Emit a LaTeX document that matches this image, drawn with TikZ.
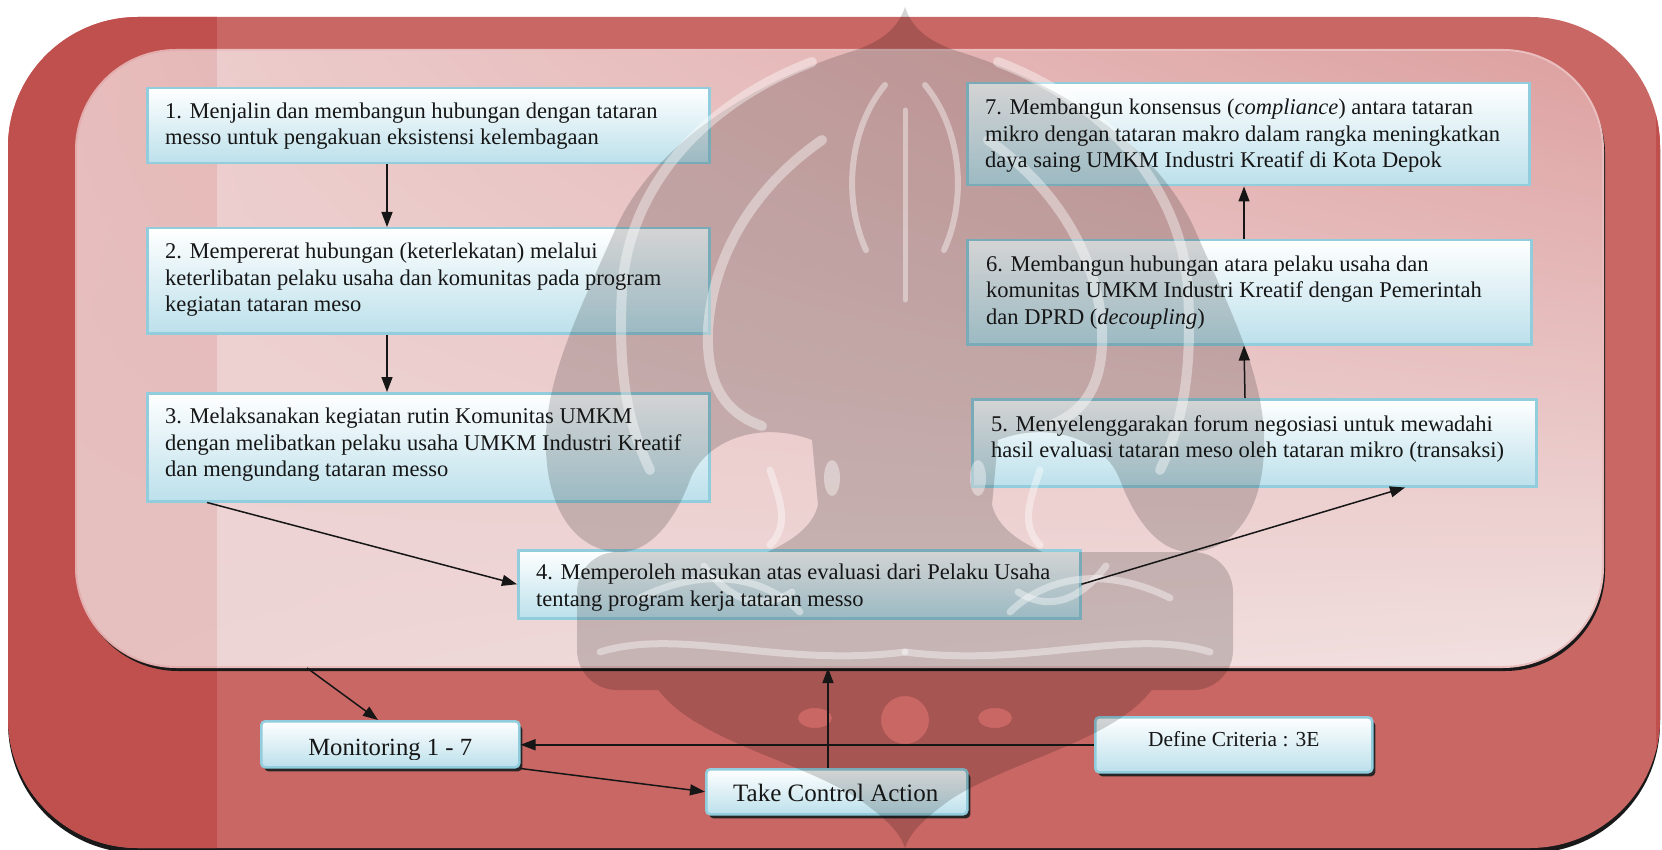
\documentclass[tikz,border=0pt]{standalone}
\usepackage{fontspec}
\setmainfont{Liberation Serif}
\usetikzlibrary{arrows.meta,shadows,shadings,calc}

\definecolor{redlight}{RGB}{201,103,100}
\definecolor{reddark}{RGB}{192,80,77}
\definecolor{boxedge}{RGB}{146,205,221}
\definecolor{boxbot}{RGB}{188,224,235}
\definecolor{panelrim}{RGB}{234,190,190}
\definecolor{ink}{RGB}{22,22,22}
\definecolor{panelUL}{RGB}{238,208,208}
\definecolor{panelUR}{RGB}{221,160,160}
\definecolor{panelLL}{RGB}{237,212,212}
\definecolor{panelLR}{RGB}{242,224,224}

\begin{document}
\begin{tikzpicture}[x=1pt,y=-1pt,
  bigbox/.style={draw=boxedge, line width=2.5pt, top color=white, bottom color=boxbot,
                 anchor=north west, inner sep=0pt},
  smallbox/.style={bigbox, rounded corners=4pt,
                 drop shadow={shadow xshift=3pt, shadow yshift=-4pt, fill=black!85, opacity=1}},
  btext/.style={anchor=north west, inner sep=0pt, align=left, text=ink,
                font=\fontsize{22.5}{26.5}\selectfont},
  stext/.style={anchor=base, inner sep=0pt, text=ink},
  arr/.style={-{Triangle[length=15pt,width=11pt]}, line width=1.5pt, draw=ink},
  emblemline/.style={white, opacity=0.4, line width=10pt, line cap=round},
]
\useasboundingbox (0,0) rectangle (1662,850);

% outer frame with its dark edge strips and bottom shadow
\fill[black!90, rounded corners=130pt] (8,21) rectangle (1660,853);
\fill[redlight, rounded corners=130pt] (8,17) rectangle (1660,848);
\begin{scope}
  \clip[rounded corners=130pt] (8,17) rectangle (1660,848);
  \fill[reddark] (0,0) rectangle (217,850);
  \fill[reddark] (1656,0) rectangle (1662,850);
\end{scope}

% pale inner panel
\node[draw=panelrim, line width=2pt, rounded corners=100pt,
      minimum width=1527pt, minimum height=617pt, inner sep=0pt,
      upper left=panelUL, upper right=panelUR,
      lower left=panelLL, lower right=panelLR,
      drop shadow={shadow xshift=2pt, shadow yshift=-4pt, fill=black!90, opacity=1}]
      (panel) at (839.5,358.5) {};
\begin{scope}
  \clip[rounded corners=100pt] (panel.north west) rectangle (panel.south east);
  \fill[reddark, opacity=0.15] (0,0) rectangle (217,850);
\end{scope}

% process boxes
\node[bigbox, minimum width=562pt, minimum height=75pt]  (b1) at (146,87)  {};
\node[bigbox, minimum width=562pt, minimum height=105pt] (b2) at (146,227) {};
\node[bigbox, minimum width=562pt, minimum height=108pt] (b3) at (146,392) {};
\node[bigbox, minimum width=562pt, minimum height=68pt]  (b4) at (517,549) {};
\node[bigbox, minimum width=564pt, minimum height=87pt]  (b5) at (971,398) {};
\node[bigbox, minimum width=564pt, minimum height=104pt] (b6) at (966,239) {};
\node[bigbox, minimum width=562pt, minimum height=102pt] (b7) at (966,82)  {};

% control loop boxes
\node[smallbox, minimum width=258pt, minimum height=46pt] (mon) at (260,720) {};
\node[smallbox, minimum width=261pt, minimum height=45pt] (tca) at (705,768) {};
\node[smallbox, minimum width=277pt, minimum height=55pt] (def) at (1094,716) {};

% faint emblem in the background: dark body
\begin{scope}[transparency group, opacity=0.17]
  \fill[black] (905,7) .. controls (898,28) and (882,42) .. (850,52)
    .. controls (760,80) and (655,140) .. (615,230)
    .. controls (580,310) and (543,380) .. (546,450)
    .. controls (548,510) and (575,548) .. (615,552)
    .. controls (650,555) and (675,520) .. (690,480)
    .. controls (705,440) and (760,420) .. (812,440)
    -- (818,505) .. controls (812,530) and (785,545) .. (758,556)
    -- (1052,556) .. controls (1025,545) and (998,530) .. (992,505)
    -- (998,440) .. controls (1050,420) and (1105,440) .. (1120,480)
    .. controls (1135,520) and (1160,555) .. (1195,552)
    .. controls (1235,548) and (1262,510) .. (1264,450)
    .. controls (1267,380) and (1230,310) .. (1195,230)
    .. controls (1155,140) and (1050,80) .. (960,52)
    .. controls (928,42) and (912,28) .. (905,7) -- cycle;
  \fill[black, rounded corners=40pt] (577,552) rectangle (1233,690);
  \fill[black, even odd rule] (655,685) .. controls (690,740) and (800,760) .. (860,800)
    .. controls (885,818) and (900,832) .. (905,848)
    .. controls (910,832) and (925,818) .. (950,800)
    .. controls (1010,760) and (1120,740) .. (1155,685) -- cycle
    (905,720) circle[radius=24pt]
    (815,718) ellipse[x radius=17pt, y radius=10pt]
    (995,718) ellipse[x radius=17pt, y radius=10pt];
\end{scope}
% faint emblem: light inner bands
\foreach \s in {1,-1}{
  \begin{scope}[xshift=905pt, xscale=\s, xshift=-905pt]
    \draw[emblemline] (812,62) .. controls (700,105) and (628,190) .. (622,290)
      .. controls (618,370) and (626,420) .. (650,470);
    \draw[emblemline] (822,140) .. controls (750,190) and (712,260) .. (708,330)
      .. controls (706,380) and (722,412) .. (762,426);
    \draw[emblemline, line width=6pt] (885,85) .. controls (848,130) and (843,200) .. (866,250);
    \fill[white, opacity=0.4] (832,478) ellipse[x radius=8pt, y radius=18pt];
    \draw[emblemline, line width=7pt] (600,652) .. controls (680,627) and (780,668) .. (905,652);
    \draw[emblemline, line width=7pt] (640,598) .. controls (700,568) and (760,573) .. (800,612);
    \draw[emblemline, line width=7pt] (704,566) .. controls (730,600) and (760,612) .. (792,592);
    \draw[emblemline, line width=7pt] (770,470) .. controls (780,500) and (790,525) .. (770,545);
  \end{scope}
}
\draw[emblemline, line width=5pt] (905,110) -- (905,300);

% box texts
\node[btext] (t1) at ($(b1.north west)+(19,15.5)$)
  {1. Menjalin dan membangun hubungan dengan tataran\\
   messo untuk pengakuan eksistensi kelembagaan};
\node[btext] (t2) at ($(b2.north west)+(19,16)$)
  {2. Mempererat hubungan (keterlekatan) melalui\\
   keterlibatan pelaku usaha dan komunitas pada program\\
   kegiatan tataran meso};
\node[btext] (t3) at ($(b3.north west)+(19,16)$)
  {3. Melaksanakan kegiatan rutin Komunitas UMKM\\
   dengan melibatkan pelaku usaha UMKM Industri Kreatif\\
   dan mengundang tataran messo};
\begin{scope}
  \clip (b4.north west) rectangle ($(b4.south east)+(0,-9)$);
  \node[btext] (t4) at ($(b4.north west)+(19,15)$)
    {4. Memperoleh masukan atas evaluasi dari Pelaku Usaha\\
     tentang program kerja tataran messo};
\end{scope}
\node[btext] (t5) at ($(b5.north west)+(20,17)$)
  {5. Menyelenggarakan forum negosiasi untuk mewadahi\\
   hasil evaluasi tataran meso oleh tataran mikro (transaksi)};
\node[btext] (t6) at ($(b6.north west)+(20,16.5)$)
  {6. Membangun hubungan atara pelaku usaha dan\\
   komunitas UMKM Industri Kreatif dengan Pemerintah\\
   dan DPRD (\textit{decoupling})};
\node[btext] (t7) at ($(b7.north west)+(19,17)$)
  {7. Membangun konsensus (\textit{compliance}) antara tataran\\
   mikro dengan tataran makro dalam rangka meningkatkan\\
   daya saing UMKM Industri Kreatif di Kota Depok};

\begin{scope}
  \clip (mon.north west) rectangle ($(mon.south east)+(0,-9)$);
  \node[stext, font=\fontsize{24.7}{28}\selectfont] (tmon) at ($(mon.north)+(0,35)$) {Monitoring 1 - 7};
\end{scope}
\node[stext, font=\fontsize{25}{29}\selectfont] (ttca) at ($(tca.north)+(-1,33)$) {Take Control Action};
\node[stext, font=\fontsize{21.4}{25}\selectfont] (tdef) at ($(def.north)+(0,30)$) {Define Criteria : 3E};

% connectors
\draw[arr] (387,0 |- b1.south) -- (387,0 |- b2.north);
\draw[arr] (387,0 |- b2.south) -- (387,0 |- b3.north);
\draw[arr] (207,0 |- b3.south) -- (b4.west);
\draw[arr] (b4.east) -- (1405,0 |- b5.south);
\draw[arr] (1245,0 |- b5.north) -- (1244,0 |- b6.south);
\draw[arr] (1244,0 |- b6.north) -- (1244,0 |- b7.south);
\draw[arr] (307,0 |- panel.south) -- (378,0 |- mon.north);
\draw[arr] (def.west) -- (mon.east |- def.west);
\draw[arr] (mon.south east) -- (tca.west);
\draw[arr] (828,0 |- tca.north) -- (828,0 |- panel.south);
\end{tikzpicture}
\end{document}
